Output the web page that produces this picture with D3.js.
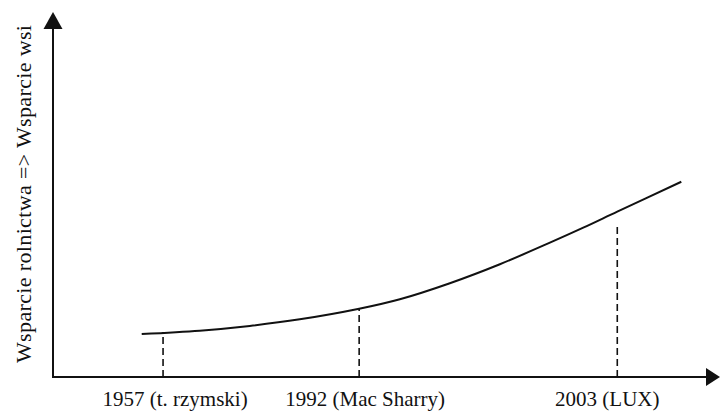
<!DOCTYPE html>
<html>
<head>
<meta charset="utf-8">
<script src="https://cdn.jsdelivr.net/npm/d3@7"></script>
<style>
  body { margin: 0; background: #fff; }
  text { fill: #111; }
</style>
</head>
<body>
<div id="chart"></div>
<script>
// milestones on the time axis
var milestones = ["1957 (t. rzymski)", "1992 (Mac Sharry)", "2003 (LUX)"];
var milestoneX = [16.5, 45.9, 84.6];
var dashTop = [12.3, 18.6, 42.2];

// schematic curve of support
var curveX = [13.3, 22.0, 29.5, 37.0, 45.9, 52.0, 59.5, 67.0, 74.5, 79.5, 84.6, 94.2];
var curveY = [11.8, 12.7, 14.0, 15.8, 18.7, 21.3, 25.7, 30.9, 36.8, 40.9, 45.3, 53.5];

var yLabel = "Wsparcie rolnictwa => Wsparcie wsi";

var svgWidth = 721;
var svgHeight = 411;
var serif = "Liberation Serif, Times New Roman, serif";

var margin = { top: 12, right: 1, bottom: 34, left: 53 };

var svg = d3.select("#chart")
  .append("svg")
  .attr("width", svgWidth)
  .attr("height", svgHeight);

var xScale = d3.scaleLinear()
  .domain([0, 100])
  .range([margin.left, svgWidth - margin.right]);

var yScale = d3.scaleLinear()
  .domain([0, 100])
  .range([svgHeight - margin.bottom, margin.top]);

var x0 = xScale(0), y0 = yScale(0);

// axes
svg.append("line")
  .attr("x1", x0).attr("y1", y0 + 1)
  .attr("x2", x0).attr("y2", yScale(100) + 10)
  .attr("stroke", "#111").attr("stroke-width", 2);

svg.append("line")
  .attr("x1", x0 - 1).attr("y1", y0)
  .attr("x2", xScale(100) - 8).attr("y2", y0)
  .attr("stroke", "#111").attr("stroke-width", 2);

// arrow heads
var yt = yScale(100);
svg.append("path")
  .attr("d", `M${x0},${yt} L${x0 + 9.5},${yt + 17} L${x0 - 9.5},${yt + 17} Z`)
  .attr("fill", "#111");

var xt = xScale(100);
svg.append("path")
  .attr("d", `M${xt},${y0} L${xt - 14},${y0 - 9} L${xt - 14},${y0 + 9} Z`)
  .attr("fill", "#111");

// dashed guides
svg.selectAll(".guide")
  .data(milestones)
  .enter()
  .append("line")
  .attr("class", "guide")
  .attr("x1", (d, i) => xScale(milestoneX[i]))
  .attr("x2", (d, i) => xScale(milestoneX[i]))
  .attr("y1", y0)
  .attr("y2", (d, i) => yScale(dashTop[i]))
  .attr("stroke", "#111")
  .attr("stroke-width", 1.6)
  .attr("stroke-dasharray", "7,4");

// curve
var pts = curveX.map((x, i) => [x, curveY[i]]);
var line = d3.line()
  .x(d => xScale(d[0]))
  .y(d => yScale(d[1]))
  .curve(d3.curveCatmullRom);

svg.append("path")
  .datum(pts)
  .attr("d", line)
  .attr("fill", "none")
  .attr("stroke", "#111")
  .attr("stroke-width", 2);

// tick labels
var labelShift = [12, 6, -10];
svg.selectAll(".tickLabel")
  .data(milestones)
  .enter()
  .append("text")
  .attr("class", "tickLabel")
  .attr("x", (d, i) => xScale(milestoneX[i]) + labelShift[i])
  .attr("y", 406)
  .attr("text-anchor", "middle")
  .attr("font-family", serif)
  .attr("font-size", "21px")
  .text(d => d);

// y label
svg.append("text")
  .attr("transform", "translate(31, 194) rotate(-90)")
  .attr("text-anchor", "middle")
  .attr("font-family", serif)
  .attr("font-size", "22px")
  .attr("textLength", 338)
  .attr("lengthAdjust", "spacing")
  .text(yLabel);
</script>
</body>
</html>
